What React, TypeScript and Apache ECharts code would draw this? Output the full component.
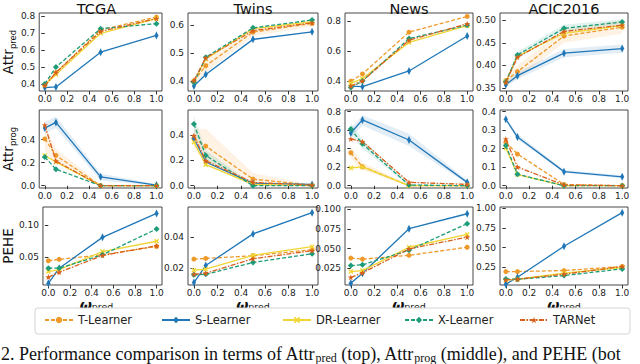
import React, { useEffect, useRef } from 'react';
import * as echarts from 'echarts';

const OMEGA = [0, 0.1, 0.5, 1.0];
const DATASETS = ['TCGA', 'Twins', 'News', 'ACIC2016'];
const METHODS = ['T-Learner', 'S-Learner', 'DR-Learner', 'X-Learner', 'TARNet'];
const X_TICKS = [0, 0.2, 0.4, 0.6, 0.8, 1.0];

// Attr_pred (top row); inner rows follow METHODS order
const predTCGA = [
  [0.394, 0.467, 0.72, 0.796],
  [0.378, 0.382, 0.588, 0.687],
  [0.394, 0.455, 0.70, 0.787],
  [0.40, 0.50, 0.727, 0.757],
  [0.39, 0.467, 0.711, 0.787],
];
const predTwins = [
  [0.401, 0.455, 0.575, 0.606],
  [0.383, 0.424, 0.549, 0.576],
  [0.399, 0.479, 0.587, 0.612],
  [0.395, 0.485, 0.59, 0.618],
  [0.402, 0.483, 0.58, 0.608],
];
const predNews = [
  [0.398, 0.447, 0.726, 0.831],
  [0.366, 0.362, 0.467, 0.70],
  [0.384, 0.416, 0.657, 0.769],
  [0.357, 0.40, 0.683, 0.773],
  [0.366, 0.40, 0.672, 0.782],
];
const predACIC = [
  [0.366, 0.386, 0.465, 0.4845],
  [0.357, 0.377, 0.427, 0.437],
  [0.364, 0.42, 0.471, 0.488],
  [0.363, 0.423, 0.482, 0.496],
  [0.362, 0.418, 0.475, 0.489],
];

// Attr_prog (middle row)
const progTCGA = [
  [0.406, 0.263, 0.0, 0.0],
  [0.50, 0.549, 0.077, 0.005],
  [0.263, 0.206, 0.0, 0.0],
  [0.249, 0.143, 0.0, 0.0],
  [0.526, 0.214, 0.0, 0.0],
];
const progTwins = [
  [0.374, 0.312, 0.052, 0.005],
  [0.374, 0.187, 0.018, 0.01],
  [0.343, 0.166, 0.01, 0.0],
  [0.486, 0.239, 0.0, 0.0],
  [0.395, 0.197, 0.026, 0.005],
];
const progNews = [
  [0.356, 0.205, 0.0, 0.0],
  [0.569, 0.711, 0.494, 0.036],
  [0.192, 0.203, 0.0, 0.0],
  [0.612, 0.452, 0.007, 0.0],
  [0.505, 0.476, 0.036, 0.014],
];
const progACIC = [
  [0.235, 0.171, 0.007, 0.0],
  [0.359, 0.263, 0.076, 0.048],
  [0.204, 0.06, 0.0, 0.0],
  [0.217, 0.062, 0.0, 0.0],
  [0.252, 0.101, 0.004, 0.0],
];

// PEHE (bottom row)
const peheTCGA = [
  [0.0448, 0.047, 0.054, 0.067],
  [0.0099, 0.0333, 0.081, 0.118],
  [0.028, 0.031, 0.059, 0.075],
  [0.0333, 0.0333, 0.054, 0.094],
  [0.0196, 0.027, 0.053, 0.068],
];
const peheTwins = [
  [0.0259, 0.0263, 0.028, 0.032],
  [0.0107, 0.0217, 0.0422, 0.0559],
  [0.0187, 0.0193, 0.0283, 0.0339],
  [0.0157, 0.016, 0.0237, 0.0293],
  [0.0161, 0.0167, 0.0261, 0.0313],
];
const peheNews = [
  [0.0379, 0.0366, 0.0414, 0.0517],
  [0.0057, 0.0186, 0.0754, 0.0944],
  [0.0207, 0.022, 0.0517, 0.068],
  [0.0284, 0.0293, 0.0479, 0.0818],
  [0.0133, 0.019, 0.0496, 0.0646],
];
const peheACIC = [
  [0.194, 0.194, 0.207, 0.259],
  [0.031, 0.121, 0.516, 0.945],
  [0.087, 0.096, 0.173, 0.246],
  [0.10, 0.096, 0.143, 0.228],
  [0.087, 0.096, 0.16, 0.259],
];

// shaded std bands: [lower, upper]
const bandPredTwins_T = [[0.39, 0.43, 0.56, 0.595], [0.41, 0.48, 0.59, 0.617]];
const bandPredACIC_S = [[0.352, 0.369, 0.418, 0.428], [0.362, 0.385, 0.436, 0.446]];
const bandPredACIC_T = [[0.36, 0.37, 0.45, 0.47], [0.372, 0.40, 0.48, 0.50]];
const bandPredACIC_X = [[0.36, 0.415, 0.475, 0.49], [0.366, 0.43, 0.49, 0.502]];
const bandProgTCGA_S = [[0.45, 0.50, 0.045, 0.0], [0.55, 0.60, 0.106, 0.012]];
const bandProgTCGA_T = [[0.30, 0.20, 0.0, 0.0], [0.52, 0.32, 0.01, 0.0]];
const bandProgTwins_T = [[0.30, 0.17, 0.0, 0.0], [0.45, 0.45, 0.10, 0.01]];
const bandProgTwins_X = [[0.43, 0.20, 0.0, 0.0], [0.55, 0.28, 0.01, 0.0]];
const bandProgNews_S = [[0.52, 0.65, 0.43, 0.02], [0.62, 0.76, 0.56, 0.06]];
const bandProgNews_X = [[0.55, 0.40, 0.0, 0.0], [0.68, 0.50, 0.02, 0.0]];
const bandProgNews_T = [[0.30, 0.17, 0.0, 0.0], [0.42, 0.25, 0.01, 0.0]];
const bandProgNews_DR = [[0.17, 0.18, 0.0, 0.0], [0.22, 0.23, 0.01, 0.0]];
const bandProgACIC_S = [[0.35, 0.25, 0.07, 0.04], [0.37, 0.28, 0.085, 0.056]];

// [row, col, methodIndex, band]
const BANDS: [number, number, number, number[][]][] = [
  [0, 1, 0, bandPredTwins_T],
  [0, 3, 1, bandPredACIC_S],
  [0, 3, 0, bandPredACIC_T],
  [0, 3, 3, bandPredACIC_X],
  [1, 0, 1, bandProgTCGA_S],
  [1, 0, 0, bandProgTCGA_T],
  [1, 1, 0, bandProgTwins_T],
  [1, 1, 3, bandProgTwins_X],
  [1, 2, 1, bandProgNews_S],
  [1, 2, 3, bandProgNews_X],
  [1, 2, 0, bandProgNews_T],
  [1, 2, 2, bandProgNews_DR],
  [1, 3, 1, bandProgACIC_S],
];

const ROWS = [
  [predTCGA, predTwins, predNews, predACIC],
  [progTCGA, progTwins, progNews, progACIC],
  [peheTCGA, peheTwins, peheNews, peheACIC],
];

const Y_TICKS = [
  [[0.4, 0.5, 0.6, 0.7, 0.8], [0.4, 0.5, 0.6], [0.4, 0.6, 0.8], [0.35, 0.4, 0.45, 0.5]],
  [[0, 0.2, 0.4], [0, 0.2, 0.4], [0, 0.2, 0.4, 0.6, 0.8], [0, 0.1, 0.2, 0.3, 0.4]],
  [[0.05, 0.1], [0.02, 0.04], [0.025, 0.05, 0.075, 0.1], [0.25, 0.5, 0.75, 1.0]],
];
const Y_DECIMALS = [
  [1, 1, 1, 2],
  [1, 1, 1, 1],
  [2, 2, 3, 2],
];
const Y_RANGES = [
  [[0.358, 0.82], [0.365, 0.643], [0.333, 0.854], [0.343, 0.516]],
  [[-0.02, 0.657], [-0.018, 0.597], [-0.025, 0.818], [-0.0124, 0.409]],
  [[0.0073, 0.128], [0.0091, 0.0596], [0.0036, 0.103], [0.0227, 1.017]],
];
const ROW_NAMES = ['{a|Attr}{s|pred}', '{a|Attr}{s|prog}', '{a|PEHE}'];

const COL_LEFT = [31, 188, 345, 500];
const COL_W = [131, 130, 128, 128];
const ROW_TOP = [13, 110, 207];
const ROW_H = 78;
const LEG_LEFT = [44, 161, 282, 404, 519];

const X_PATH = 'path://M2,0L5,3L8,0L10,2L7,5L10,8L8,10L5,7L2,10L0,8L3,5L0,2Z';
const STAR_PATH = 'path://M5,0L6.2,3.6L10,3.8L7,6.1L8.1,9.8L5,7.6L1.9,9.8L3,6.1L0,3.8L3.8,3.6Z';

const STYLES: any[] = [
  { color: '#EE9A2B', symbol: 'circle', size: 5, type: [4, 2] },
  { color: '#1F77B8', symbol: 'diamond', size: [4, 8], type: 'solid' },
  { color: '#F0D534', symbol: X_PATH, size: 5, type: 'solid' },
  { color: '#1C9C78', symbol: 'diamond', size: 6, type: [4, 2] },
  { color: '#D8601B', symbol: STAR_PATH, size: 6, type: [5, 1.5, 1.5, 1.5] },
];

const FONT = 'DejaVu Sans';

export default function App() {
  const ref = useRef<HTMLDivElement>(null);
  useEffect(() => {
    if (!ref.current) return;
    const chart = echarts.init(ref.current, undefined, { renderer: 'svg' });
    const grids: any[] = [];
    const xAxes: any[] = [];
    const yAxes: any[] = [];
    const series: any[] = [];
    const graphics: any[] = [];

    for (let r = 0; r < 3; r++) {
      for (let c = 0; c < 4; c++) {
        const gi = r * 4 + c;
        grids.push({
          left: COL_LEFT[c], top: ROW_TOP[r], width: COL_W[c], height: ROW_H,
          show: true, borderColor: '#333', borderWidth: 0.9, backgroundColor: 'transparent',
        });
        xAxes.push({
          type: 'value', gridIndex: gi, min: -0.05, max: 1.05,
          axisLine: { show: false },
          splitLine: { show: false },
          axisTick: { show: true, length: 3.5, customValues: X_TICKS, lineStyle: { color: '#333' } },
          axisLabel: {
            customValues: X_TICKS, fontSize: 9, color: '#222', fontFamily: FONT, margin: 3,
            formatter: (v: number) => v.toFixed(1),
          },
        });
        const dec = Y_DECIMALS[r][c];
        const yAx: any = {
          type: 'value', gridIndex: gi, min: Y_RANGES[r][c][0], max: Y_RANGES[r][c][1],
          axisLine: { show: false },
          splitLine: { show: false },
          axisTick: { show: true, length: 3.5, customValues: Y_TICKS[r][c], lineStyle: { color: '#333' } },
          axisLabel: {
            customValues: Y_TICKS[r][c], fontSize: 9, color: '#222', fontFamily: FONT, margin: 4,
            formatter: (v: number) => v.toFixed(dec),
          },
        };
        if (c === 0) {
          yAx.name = ROW_NAMES[r];
          yAx.nameLocation = 'middle';
          yAx.nameRotate = 90;
          yAx.nameGap = 14;
          yAx.nameTextStyle = {
            rich: {
              a: { fontSize: 13.5, fontFamily: FONT, color: '#111', lineHeight: 18 },
              s: { fontSize: 8.5, fontFamily: FONT, color: '#111', verticalAlign: 'bottom', lineHeight: 18 },
            },
          };
        }
        yAxes.push(yAx);
        BANDS.forEach(([br, bc, m, band]) => {
          if (br !== r || bc !== c) return;
          series.push({
            type: 'custom', xAxisIndex: gi, yAxisIndex: gi, silent: true, z: 1,
            data: [[OMEGA[0], band[0][0]]],
            renderItem: (_p: any, api: any) => {
              const up = OMEGA.map((x, i) => api.coord([x, band[1][i]]));
              const lo = OMEGA.map((x, i) => api.coord([x, band[0][i]])).reverse();
              return {
                type: 'polygon',
                shape: { points: up.concat(lo) },
                style: { fill: STYLES[m].color, opacity: 0.13 },
              };
            },
          });
        });
        const vals = ROWS[r][c];
        METHODS.forEach((name, m) => {
          const s = STYLES[m];
          series.push({
            name, type: 'line', xAxisIndex: gi, yAxisIndex: gi, z: 2 + m * 0.1,
            data: OMEGA.map((x, i) => [x, vals[m][i]]),
            symbol: s.symbol, symbolSize: s.size, showSymbol: true,
            lineStyle: { color: s.color, width: 1.3, type: s.type },
            itemStyle: { color: s.color },
          });
        });
      }
    }

    DATASETS.forEach((d, c) => {
      graphics.push({
        type: 'text',
        x: COL_LEFT[c] + COL_W[c] / 2, y: 1,
        style: { text: d, fontSize: 14.5, fontFamily: FONT, fill: '#111', align: 'center', verticalAlign: 'top' },
      });
      graphics.push({
        type: 'text',
        x: COL_LEFT[c] + COL_W[c] / 2, y: 305,
        style: {
          text: '{w|ω}{s|pred}', align: 'center', verticalAlign: 'middle',
          rich: {
            w: { fontSize: 14, fontWeight: 'bold', fontStyle: 'italic', fontFamily: FONT, fill: '#111', lineHeight: 13 },
            s: { fontSize: 9.5, fontFamily: FONT, fill: '#111', verticalAlign: 'bottom', lineHeight: 13 },
          },
        },
      });
    });
    graphics.push({
      type: 'rect', z: 0,
      shape: { x: 35, y: 308, width: 595, height: 26, r: 3 },
      style: { fill: '#fff', stroke: '#d4d4d4', lineWidth: 1 },
    });
    graphics.push({
      type: 'text', x: 1, y: 354,
      style: {
        text: '{t|2. Performance comparison in terms of Attr}{s|pred}{t| (top), Attr}{s|prog}{t| (middle), and PEHE (bot}',
        verticalAlign: 'middle',
        rich: {
          t: { fontSize: 18, fontFamily: 'Liberation Serif', fill: '#111', lineHeight: 20 },
          s: { fontSize: 12, fontFamily: 'Liberation Serif', fill: '#111', verticalAlign: 'bottom', lineHeight: 20 },
        },
      },
    });

    const legends = METHODS.map((m, i) => ({
      data: [m], left: LEG_LEFT[i], top: 314, itemWidth: 28, itemHeight: 8, itemGap: 5,
      padding: 0, selectedMode: false, z: 5,
      textStyle: { fontSize: 11.5, color: '#222', fontFamily: FONT },
    }));

    chart.setOption({
      animation: false,
      backgroundColor: '#fff',
      grid: grids,
      xAxis: xAxes,
      yAxis: yAxes,
      series,
      legend: legends,
      graphic: graphics,
    });
    return () => chart.dispose();
  }, []);
  return <div ref={ref} style={{ position: 'absolute', left: 0, top: 0, width: 640, height: 364 }} />;
}
